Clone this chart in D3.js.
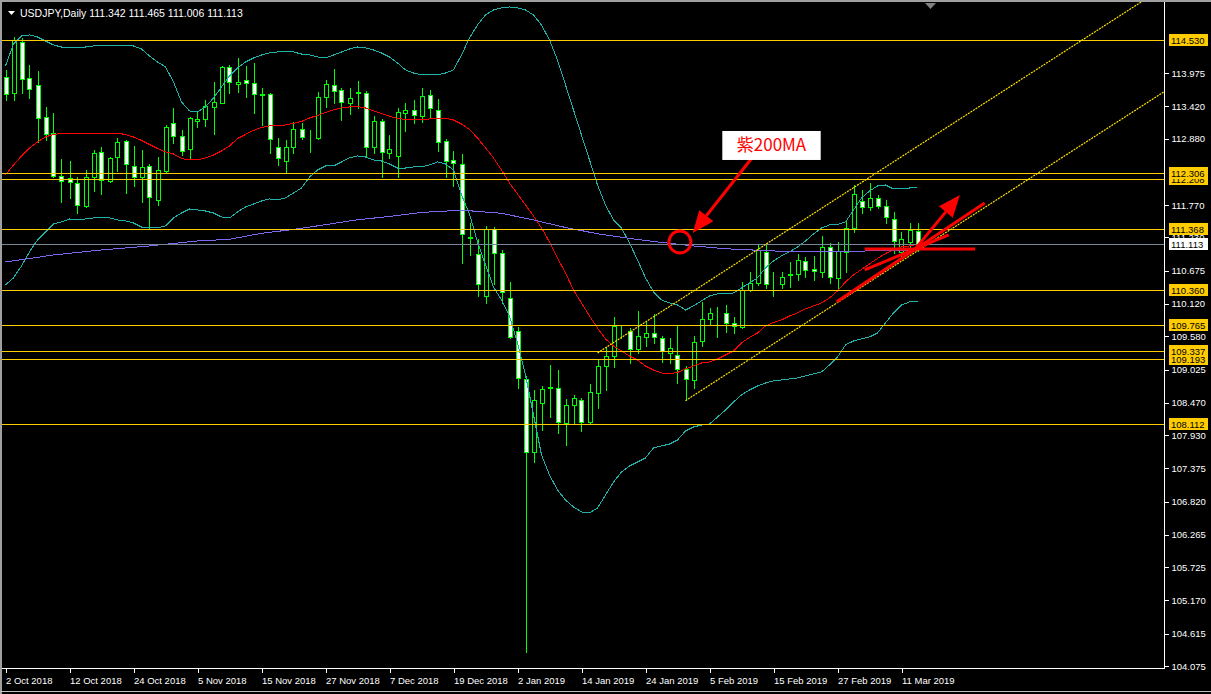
<!DOCTYPE html>
<html><head><meta charset="utf-8">
<script src="https://cdn.jsdelivr.net/npm/d3@7"></script>
<style>html,body{margin:0;padding:0;background:#000;overflow:hidden}svg{display:block}</style>
</head><body>
<svg id="chart" width="1211" height="694"></svg>
<script>
// ---------------- DATA ----------------
const symbolTitle = "USDJPY,Daily";
const lastQuote = ["111.342","111.465","111.006","111.113"];
const octDays = [2,3,4,5,8,9,10,11,12,15,16,17,18,19,22,23,24,25,26,29,30,31];
const novDays = [1,2,5,6,7,8,9,12,13,14,15,16,19,20,21,22,23,26,27,28,29,30];
const decDays = [3,4,5,6,7,10,11,12,13,14,17,18,19,20,21,24,26,27,28,31];
const janDays = [2,3,4,7,8,9,10,11,14,15,16,17,18,21,22,23,24,25,28,29,30,31];
const febDays = [1,4,5,6,7,8,11,12,13,14,15,18,19,20,21,22,25,26,27,28];
const marDays = [4,5,6,7,8,11,12,13];
const dates = [].concat(
  octDays.map(d=>d+" Oct 2018"), novDays.map(d=>d+" Nov 2018"), decDays.map(d=>d+" Dec 2018"),
  janDays.map(d=>d+" Jan 2019"), febDays.map(d=>d+" Feb 2019"), ["1 Mar 2019"], marDays.map(d=>d+" Mar 2019"));
const dateTickLabels = ["2 Oct 2018","12 Oct 2018","24 Oct 2018","5 Nov 2018","15 Nov 2018","27 Nov 2018","7 Dec 2018","19 Dec 2018","2 Jan 2019","14 Jan 2019","24 Jan 2019","5 Feb 2019","15 Feb 2019","27 Feb 2019","11 Mar 2019"];

const open = [113.914,113.642,114.493,113.893,113.776,113.241,112.974,112.256,112.222,112.139,
111.755,112.239,112.657,112.172,112.573,112.840,112.423,112.239,112.423,111.855,
112.339,113.141,112.924,112.707,113.174,113.208,113.408,113.475,114.076,113.792,
113.859,113.809,113.600,113.625,112.740,112.506,112.740,113.041,112.949,112.890,
113.575,113.776,113.692,113.475,113.642,113.642,112.740,113.174,112.640,112.590,
113.308,113.358,113.258,113.609,113.358,112.840,112.523,112.456,111.220,110.954,
110.253,111.371,110.971,110.220,109.668,108.867,107.648,108.466,108.717,108.717,
108.132,108.432,108.516,108.149,108.633,109.084,109.251,109.660,109.668,109.368,
109.568,109.635,109.551,109.301,109.268,109.034,108.850,109.501,109.869,109.961,
109.969,109.802,109.735,110.353,110.470,110.988,110.445,110.453,110.595,110.620,
110.837,110.704,110.654,111.071,110.554,110.988,111.388,111.838,111.738,111.889,
111.755,111.538,110.988,111.154,111.342];
const high = [114.026,114.576,114.559,114.109,114.009,113.408,113.308,112.540,112.506,112.239,
112.356,112.690,112.740,112.573,112.890,112.857,112.757,112.690,112.456,112.573,
113.108,113.391,113.024,113.241,113.325,113.525,113.825,114.093,114.109,114.226,
114.093,114.143,113.726,113.642,112.890,112.857,113.158,113.141,113.024,113.659,
113.859,114.043,113.726,113.726,113.842,113.676,113.258,113.208,112.940,113.391,
113.475,113.525,113.726,113.692,113.542,112.874,112.673,112.623,111.471,111.204,
111.421,111.404,111.021,110.487,109.735,108.917,108.683,108.750,109.101,109.017,
108.533,108.599,108.549,108.783,109.201,109.401,109.902,109.752,109.718,110.002,
109.819,109.952,109.585,109.551,109.752,109.084,109.585,110.153,110.053,110.069,
110.103,109.902,110.487,110.654,111.104,111.138,110.654,110.654,110.820,110.954,
110.904,110.921,111.254,111.138,111.154,111.521,112.105,112.022,112.139,111.939,
111.855,111.655,111.321,111.471,111.465];
const low = [113.525,113.525,113.642,113.558,112.824,112.857,112.239,111.822,111.889,111.638,
111.738,112.005,111.955,112.155,112.339,111.972,112.089,111.822,111.388,111.772,
112.306,112.807,112.606,112.556,113.074,113.091,112.957,113.475,113.642,113.659,
113.575,113.308,113.108,112.640,112.440,112.322,112.640,112.874,112.657,112.874,
113.408,113.475,113.191,113.291,113.391,112.573,112.640,112.239,112.557,112.239,
113.007,113.141,113.158,113.224,112.673,112.239,112.089,110.804,110.937,110.253,
110.136,110.453,110.136,109.551,108.717,104.310,107.481,108.015,108.232,107.965,
107.765,108.132,107.998,108.115,108.382,108.683,109.067,109.551,109.134,109.301,
109.418,109.468,109.151,109.134,108.800,108.516,108.717,109.418,109.769,109.568,
109.652,109.635,109.718,110.336,110.437,110.386,110.253,110.386,110.403,110.520,
110.570,110.520,110.570,110.470,110.370,110.654,111.321,111.638,111.688,111.721,
111.471,110.971,110.904,111.071,111.006];
const close = [113.625,114.526,113.876,113.709,113.224,112.957,112.256,112.172,112.155,111.772,
112.239,112.640,112.189,112.557,112.824,112.456,112.239,112.406,111.905,112.356,
113.074,112.924,112.673,113.224,113.208,113.425,113.492,114.076,113.825,113.825,
113.809,113.625,113.617,112.874,112.557,112.740,113.041,112.907,112.957,113.575,
113.792,113.676,113.492,113.558,113.650,112.740,113.174,112.657,112.707,113.325,
113.358,113.275,113.592,113.391,112.824,112.506,112.473,111.287,111.230,110.453,
111.371,110.971,110.320,109.568,108.884,107.648,108.516,108.700,108.725,108.149,
108.432,108.549,108.149,108.650,109.084,109.251,109.752,109.668,109.368,109.585,
109.635,109.568,109.334,109.384,109.034,108.867,109.485,109.869,109.969,109.969,
109.802,109.752,110.353,110.470,111.021,110.453,110.453,110.570,110.612,110.854,
110.687,110.670,111.071,110.570,111.004,111.388,111.955,111.738,111.889,111.755,
111.571,111.171,111.204,111.354,111.113];

// Bollinger bands (20) and 200 MA, read per bar
const bbUpper = [114.092,114.459,114.593,114.610,114.576,114.509,114.443,114.409,114.409,114.409,
114.409,114.426,114.426,114.426,114.426,114.426,114.426,114.376,114.259,114.159,
114.076,113.825,113.492,113.341,113.325,113.408,113.558,113.742,113.925,114.059,
114.159,114.226,114.276,114.309,114.326,114.326,114.326,114.292,114.276,114.243,
114.226,114.276,114.326,114.376,114.409,114.393,114.359,114.309,114.243,114.143,
114.026,113.975,113.942,113.942,113.942,113.975,114.026,114.276,114.559,114.777,
114.944,115.027,115.061,115.077,115.061,115.027,114.944,114.777,114.526,114.192,
113.776,113.358,112.940,112.523,112.105,111.772,111.521,111.388,111.138,110.854,
110.554,110.320,110.186,110.136,110.103,110.019,110.086,110.170,110.253,110.286,
110.286,110.303,110.386,110.470,110.554,110.721,110.838,110.921,110.988,111.071,
111.171,111.288,111.388,111.438,111.446,111.488,111.688,111.889,112.005,112.089,
112.105,112.039,112.055,112.055,112.072];
const bbMiddle = [112.273,112.440,112.590,112.724,112.824,112.907,112.949,112.966,112.969,112.969,
112.969,112.969,112.969,112.969,112.969,112.949,112.907,112.849,112.782,112.715,
112.657,112.623,112.548,112.523,112.523,112.557,112.606,112.673,112.757,112.882,
112.949,113.016,113.066,113.091,113.091,113.108,113.133,113.166,113.224,113.266,
113.316,113.358,113.391,113.408,113.413,113.391,113.341,113.300,113.253,113.216,
113.199,113.191,113.191,113.208,113.216,113.219,113.191,113.124,113.032,112.890,
112.724,112.557,112.356,112.139,111.955,111.772,111.588,111.388,111.154,110.887,
110.637,110.353,110.136,109.919,109.718,109.535,109.418,109.334,109.251,109.184,
109.084,109.017,108.967,108.951,108.976,109.034,109.084,109.134,109.151,109.201,
109.268,109.334,109.468,109.560,109.635,109.752,109.810,109.852,109.919,109.969,
110.036,110.086,110.136,110.220,110.336,110.487,110.604,110.695,110.787,110.879,
110.962,111.021,111.071,111.088,111.113];
const bbLower = [110.437,110.554,110.754,110.988,111.188,111.321,111.455,111.488,111.538,111.521,
111.538,111.555,111.555,111.555,111.521,111.505,111.471,111.404,111.388,111.388,
111.421,111.555,111.638,111.705,111.688,111.671,111.638,111.571,111.555,111.655,
111.738,111.788,111.838,111.872,111.855,111.889,111.972,112.055,112.239,112.356,
112.423,112.423,112.490,112.557,112.590,112.573,112.523,112.506,112.456,112.389,
112.389,112.406,112.406,112.440,112.490,112.456,112.356,111.939,111.621,111.154,
110.771,110.403,110.186,109.919,109.468,108.934,108.266,107.598,107.264,107.013,
106.847,106.730,106.647,106.630,106.713,106.930,107.147,107.314,107.414,107.481,
107.548,107.715,107.748,107.781,107.848,107.998,108.065,108.098,108.115,108.232,
108.349,108.483,108.600,108.683,108.750,108.800,108.834,108.850,108.867,108.884,
108.917,108.951,108.984,109.101,109.234,109.435,109.501,109.535,109.568,109.635,
109.802,109.969,110.103,110.153,110.153];
const ma200Bars = [0,6,12,18,24,28,32,36,40,44,48,52,56,58,62,66,70,74,78,82,86,90,94,98,102,106,110,114];
const ma200 = [110.820,110.937,111.021,111.088,111.171,111.199,111.299,111.363,111.443,111.525,111.580,111.647,111.677,111.675,111.633,111.521,111.396,111.291,111.213,111.146,111.088,111.041,111.016,110.992,110.992,111.001,111.007,111.012];

const priceTicks = [113.975,113.420,112.880,111.770,111.230,110.675,110.120,109.580,109.025,108.470,107.930,107.375,106.820,106.265,105.725,105.170,104.615,104.075];
const hLevels = [114.530,112.208,112.306,111.368,110.360,109.765,109.193,109.337,108.112];
const bidPrice = 111.113;

// channel (bar index, price) anchors
const chanA = [74, 109.301], chanB = [106, 112.060], chanC = [85, 108.505];

// red annotations in (bar, price)
const noteCircle = {bar:84.3, price:111.154};
const noteText = "紫200MA";
const noteBox = {bar0:89.6, bar1:101.9, p0:113.007, p1:112.523};
const noteArrow = {from:[93.3,112.556], to:[85.9,111.304]};
const redH = {bar0:107.4, bar1:121.2, price:111.037};
const redLines = [[[103.9,110.158],[122.4,111.805]], [[107.4,110.687],[117.9,111.271]]];
const redArrow2 = {from:[113.6,111.021], to:[119.3,111.939]};

// ---------------- DRAW ----------------
const W = 1211, H = 694, plotR = 1164, plotB = 668;
const svg = d3.select("#chart");
const x = d3.scaleLinear().domain([0, 114]).range([5.5, 917.5]);
const y = d3.scaleLinear().domain([113.975, 104.075]).range([73, 666]);
const GOLD = "#ffcc00", LIME = "#00ff00", TEAL = "#20b2aa";
const FONT = "'Liberation Sans', Arial, sans-serif";

svg.append("rect").attr("width", W).attr("height", H).attr("fill", "#000");
svg.append("defs").append("clipPath").attr("id", "plot")
  .append("rect").attr("x", 0).attr("y", 0).attr("width", plotR).attr("height", plotB);
const g = svg.append("g").attr("clip-path", "url(#plot)");
const px = v => Math.round(v) + 0.5;

// candles
const idx = d3.range(open.length);
const cg = g.append("g").attr("shape-rendering", "crispEdges");
cg.selectAll("line.wick").data(idx).join("line")
  .attr("x1", i => px(x(i))).attr("x2", i => px(x(i)))
  .attr("y1", i => Math.round(y(high[i]))).attr("y2", i => Math.round(y(low[i])) + 1)
  .attr("stroke", LIME).attr("stroke-width", 1);
cg.selectAll("rect.body").data(idx).join("rect")
  .attr("x", i => px(x(i)) - 2).attr("width", 4)
  .attr("y", i => px(y(Math.max(open[i], close[i]))))
  .attr("height", i => Math.max(0, Math.round(y(Math.min(open[i], close[i]))) - Math.round(y(Math.max(open[i], close[i])))))
  .attr("fill", i => close[i] < open[i] ? "#fff" : "#000")
  .attr("stroke", LIME).attr("stroke-width", 1);

// indicators
const lineI = d3.line().x((d, i) => x(i)).y(d => y(d));
const ig = g.append("g").attr("fill", "none").attr("shape-rendering", "crispEdges");
ig.append("path").attr("d", lineI(bbUpper)).attr("stroke", TEAL);
ig.append("path").attr("d", lineI(bbLower)).attr("stroke", TEAL);
ig.append("path").attr("d", lineI(bbMiddle)).attr("stroke", "#ff0000");
ig.append("path").attr("d", d3.line().x((d, k) => x(ma200Bars[k])).y(d => y(d))(ma200)).attr("stroke", "#7b68ee");

// bid line
g.append("line").attr("x1", 0).attr("x2", plotR).attr("y1", px(y(bidPrice))).attr("y2", px(y(bidPrice)))
  .attr("stroke", "#778899").attr("shape-rendering", "crispEdges");

// horizontal levels
g.selectAll("line.lvl").data(hLevels).join("line")
  .attr("x1", 0).attr("x2", plotR).attr("y1", d => px(y(d))).attr("y2", d => px(y(d)))
  .attr("stroke", GOLD).attr("stroke-width", 1).attr("shape-rendering", "crispEdges");

// channel (dotted yellow)
const slope = (chanB[1] - chanA[1]) / (chanB[0] - chanA[0]);
const farBar = x.invert(plotR + 20);
[[chanA[0], chanA[1]], [chanC[0], chanC[1]]].forEach(([b, p]) => {
  g.append("line").attr("x1", x(b)).attr("y1", y(p))
    .attr("x2", x(farBar)).attr("y2", y(p + slope * (farBar - b)))
    .attr("stroke", "#ffe000").attr("stroke-dasharray", "2,1").attr("stroke-width", 1.2);
});

// red annotations
const ag = g.append("g");
ag.append("circle").attr("cx", x(noteCircle.bar)).attr("cy", y(noteCircle.price)).attr("r", 11)
  .attr("fill", "none").attr("stroke", "#ff0000").attr("stroke-width", 3);
function arrow(from, to, w, head, hw) {
  const x1 = x(from[0]), y1 = y(from[1]), x2 = x(to[0]), y2 = y(to[1]);
  const a = Math.atan2(y2 - y1, x2 - x1);
  const bx = x2 - head * Math.cos(a), by = y2 - head * Math.sin(a);
  ag.append("line").attr("x1", x1).attr("y1", y1).attr("x2", bx).attr("y2", by)
    .attr("stroke", "#ff0000").attr("stroke-width", w);
  ag.append("path").attr("d", `M${x2},${y2}L${bx + hw * Math.sin(a)},${by - hw * Math.cos(a)}L${bx - hw * Math.sin(a)},${by + hw * Math.cos(a)}Z`)
    .attr("fill", "#ff0000");
}
arrow(noteArrow.from, noteArrow.to, 3, 22, 9);
ag.append("line").attr("x1", x(redH.bar0)).attr("x2", x(redH.bar1)).attr("y1", y(redH.price)).attr("y2", y(redH.price))
  .attr("stroke", "#ff0000").attr("stroke-width", 3);
redLines.forEach(l => ag.append("line").attr("x1", x(l[0][0])).attr("y1", y(l[0][1])).attr("x2", x(l[1][0])).attr("y2", y(l[1][1]))
  .attr("stroke", "#ff0000").attr("stroke-width", 3));
arrow(redArrow2.from, redArrow2.to, 3, 22, 9);
ag.append("rect").attr("x", x(noteBox.bar0)).attr("y", y(noteBox.p0)).attr("width", x(noteBox.bar1) - x(noteBox.bar0))
  .attr("height", y(noteBox.p1) - y(noteBox.p0)).attr("fill", "#fff");
ag.append("text").attr("x", (x(noteBox.bar0) + x(noteBox.bar1)) / 2).attr("y", (y(noteBox.p0) + y(noteBox.p1)) / 2 + 6)
  .attr("text-anchor", "middle").attr("fill", "#ff0000").attr("font-size", 17)
  .attr("font-family", "'Noto Sans CJK JP', sans-serif").text(noteText);

// frame
svg.append("line").attr("x1", px(plotR)).attr("x2", px(plotR)).attr("y1", 0).attr("y2", plotB + 1).attr("stroke", "#fff").attr("shape-rendering", "crispEdges");
svg.append("line").attr("x1", 0).attr("x2", plotR + 1).attr("y1", px(plotB)).attr("y2", px(plotB)).attr("stroke", "#fff").attr("shape-rendering", "crispEdges");
svg.append("rect").attr("x", 0).attr("y", 0).attr("width", W).attr("height", 2).attr("fill", "#a0a0a0");
svg.append("rect").attr("x", 0).attr("y", 0).attr("width", 2).attr("height", H).attr("fill", "#a0a0a0");
svg.append("line").attr("x1", 0).attr("x2", W).attr("y1", 691.5).attr("y2", 691.5).attr("stroke", "#c0c0c0");

// right price axis
const ya = d3.axisRight(y).tickValues(priceTicks).tickSize(4).tickSizeOuter(0).tickFormat(d3.format(".3f"));
const yg = svg.append("g").attr("transform", `translate(${px(plotR)},0)`).call(ya);
yg.select(".domain").remove();
yg.selectAll(".tick line").attr("stroke", "#fff").attr("shape-rendering", "crispEdges");
yg.selectAll(".tick text").attr("fill", "#fff").attr("x", 7).attr("font-size", 9.5).attr("font-family", FONT);

// level labels
function priceTag(v, bg) {
  const yy = Math.round(y(v));
  svg.append("rect").attr("x", 1169).attr("y", yy - 6).attr("width", 39).attr("height", 12).attr("fill", bg);
  svg.append("text").attr("x", 1171).attr("y", yy + 3.5).attr("font-size", 9.5).attr("font-family", FONT)
    .attr("fill", "#000").text(d3.format(".3f")(v));
}
hLevels.forEach(v => priceTag(v, GOLD));
priceTag(bidPrice, "#fff");

// bottom date axis
const tickBars = dateTickLabels.map(l => dates.indexOf(l));
const xa = d3.axisBottom(x).tickValues(tickBars).tickSize(4).tickSizeOuter(0).tickFormat(b => dates[b]);
const xg = svg.append("g").attr("transform", `translate(0,${px(plotB)})`).call(xa);
xg.select(".domain").remove();
xg.selectAll(".tick line").attr("stroke", "#fff").attr("shape-rendering", "crispEdges");
xg.selectAll(".tick text").attr("fill", "#fff").attr("text-anchor", "start").attr("x", 0).attr("dy", "0.9em")
  .attr("font-size", 9.5).attr("font-family", FONT);

// title
svg.append("path").attr("d", "M8,11L15,11L11.5,15Z").attr("fill", "#fff");
svg.append("text").attr("x", 20).attr("y", 17).attr("fill", "#fff").attr("font-size", 10.5).attr("font-family", FONT)
  .text(symbolTitle + "  " + lastQuote.join(" "));
// shift marker
svg.append("path").attr("d", "M925,3L936,3L930.5,9Z").attr("fill", "#808080");
</script>
</body></html>
